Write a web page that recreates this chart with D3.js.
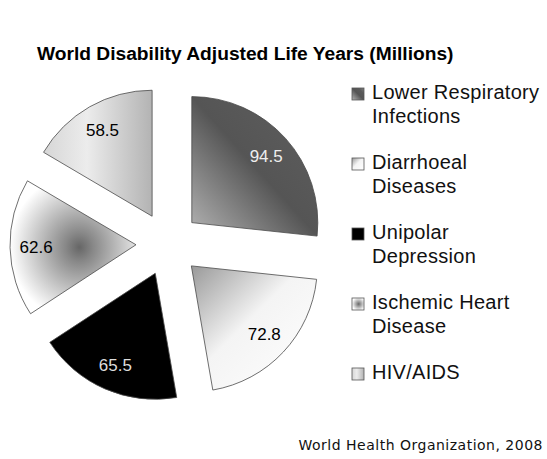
<!DOCTYPE html>
<html>
<head>
<meta charset="utf-8">
<script src="https://cdn.jsdelivr.net/npm/d3@7"></script>
<style>
  body { margin: 0; background: #fff; }
  text { font-family: "Liberation Sans", Arial, sans-serif; }
</style>
</head>
<body>
<script>
// data
var categories = ["Lower Respiratory Infections", "Diarrhoeal Diseases", "Unipolar Depression", "Ischemic Heart Disease", "HIV/AIDS"];
var legendLines = [["Lower Respiratory", "Infections"], ["Diarrhoeal", "Diseases"], ["Unipolar", "Depression"], ["Ischemic Heart", "Disease"], ["HIV/AIDS"]];
var values = [94.5, 72.8, 65.5, 62.6, 58.5];
var titleText = "World Disability Adjusted Life Years (Millions)";
var sourceText = "World Health Organization, 2008";

var w = 547, h = 459;
var cx = 168, cy = 244;   // pie centre
var r = 126;              // slice radius
var explode = 32;         // how far each slice is pulled out

var svg = d3.select("body").append("svg")
    .attr("width", w)
    .attr("height", h);

var defs = svg.append("defs");

// gradient fills, one per slice (same ids reused for the legend swatches)
function linGrad(id, x1, y1, x2, y2, stops) {
  var g = defs.append("linearGradient").attr("id", id)
      .attr("x1", x1).attr("y1", y1).attr("x2", x2).attr("y2", y2);
  stops.forEach(function(s) {
    g.append("stop").attr("offset", s[0]).attr("stop-color", s[1]);
  });
}
linGrad("g0", 0, 1, 1, 0, [[0, "#b4b4b4"], [0.5, "#555"], [0.75, "#5a5a5a"], [1, "#808080"]]);
linGrad("g1", 0, 0, 1, 1, [[0, "#999"], [0.45, "#f4f4f4"], [1, "#fff"]]);
linGrad("g4", 0, 0, 1, 0, [[0, "#d6d6d6"], [0.4, "#ececec"], [1, "#b3b3b3"]]);
var rg = defs.append("radialGradient").attr("id", "g3")
    .attr("cx", 0.55).attr("cy", 0.5).attr("r", 0.55);
rg.append("stop").attr("offset", 0).attr("stop-color", "#666");
rg.append("stop").attr("offset", 0.2).attr("stop-color", "#888");
rg.append("stop").attr("offset", 1).attr("stop-color", "#fff");

var fills = ["url(#g0)", "url(#g1)", "#000", "url(#g3)", "url(#g4)"];
var labelColors = ["#eee", "#000", "#ddd", "#000", "#000"];

var pie = d3.pie().sort(null).startAngle(0).endAngle(2 * Math.PI);
var arc = d3.arc().innerRadius(0).outerRadius(r);
var arcs = pie(values);

function offset(d, dist) {
  var mid = (d.startAngle + d.endAngle) / 2;
  return [Math.sin(mid) * dist, -Math.cos(mid) * dist];
}

var slices = svg.append("g")
    .attr("transform", "translate(" + cx + "," + cy + ")")
  .selectAll("g")
  .data(arcs)
  .enter().append("g")
    .attr("transform", function(d) {
      var o = offset(d, explode);
      return "translate(" + o[0] + "," + o[1] + ")";
    });

slices.append("path")
    .attr("d", arc)
    .attr("fill", function(d, i) { return fills[i]; })
    .attr("stroke", "#4a4a4a")
    .attr("stroke-width", 0.8);

slices.append("text")
    .attr("x", function(d) { return offset(d, 100)[0]; })
    .attr("y", function(d) { return offset(d, 100)[1]; })
    .attr("dy", "0.36em")
    .attr("text-anchor", "middle")
    .attr("font-size", "17px")
    .attr("fill", function(d, i) { return labelColors[i]; })
    .text(function(d) { return d.data; });

// title
svg.append("text")
    .attr("x", 37)
    .attr("y", 60)
    .attr("font-size", "19.2px")
    .attr("font-weight", "bold")
    .attr("fill", "#000")
    .text(titleText);

// legend
var legend = svg.append("g").selectAll("g")
    .data(categories)
  .enter().append("g")
    .attr("transform", function(d, i) { return "translate(352," + (99 + i * 70) + ")"; });

legend.append("rect")
    .attr("x", 0)
    .attr("y", -11)
    .attr("width", 12)
    .attr("height", 12)
    .attr("fill", function(d, i) { return fills[i]; })
    .attr("stroke", "#555")
    .attr("stroke-width", 0.8);

legend.each(function(d, i) {
  var t = d3.select(this).append("text")
      .attr("x", 20)
      .attr("y", 0)
      .attr("font-size", "20px")
      .attr("letter-spacing", "0.3px")
      .attr("fill", "#111");
  legendLines[i].forEach(function(line, k) {
    t.append("tspan").attr("x", 20).attr("y", k * 24).text(line);
  });
});

// source note
svg.append("text")
    .attr("x", 543)
    .attr("y", 450)
    .attr("text-anchor", "end")
    .style("font-family", "'DejaVu Sans', Verdana, sans-serif")
    .attr("font-size", "14px")
    .attr("letter-spacing", "0.5px")
    .attr("fill", "#111")
    .text(sourceText);
</script>
</body>
</html>
